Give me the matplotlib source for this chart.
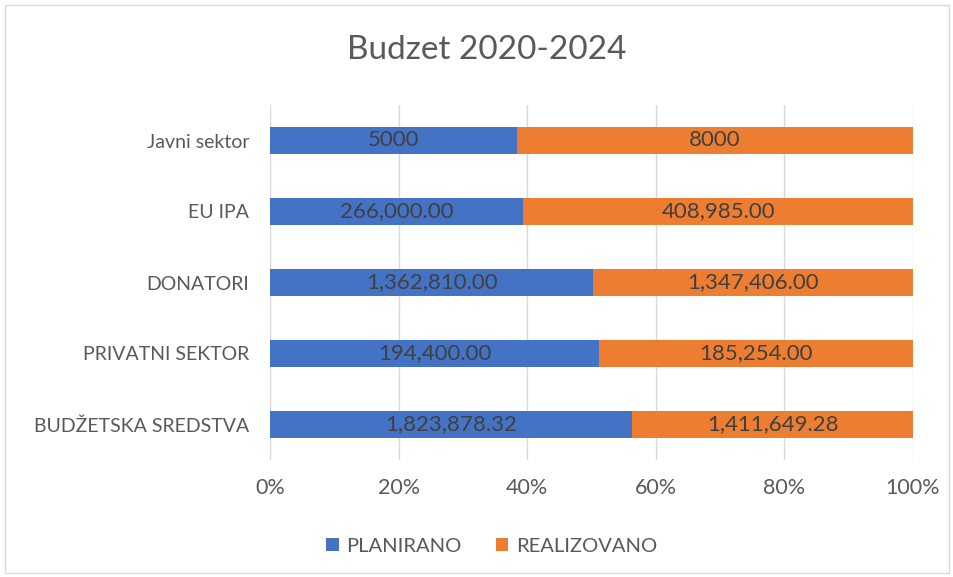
import matplotlib
matplotlib.use("Agg")
import matplotlib.pyplot as plt
from matplotlib.patches import Rectangle
import numpy as np

plt.rcParams['font.family'] = ['Lato', 'DejaVu Sans']

categories = ["BUDŽETSKA SREDSTVA", "PRIVATNI SEKTOR", "DONATORI", "EU IPA", "Javni sektor"]
planirano = [1823878.32, 194400.00, 1362810.00, 266000.00, 5000]
realizovano = [1411649.28, 185254.00, 1347406.00, 408985.00, 8000]
plan_labels = ["1,823,878.32", "194,400.00", "1,362,810.00", "266,000.00", "5000"]
real_labels = ["1,411,649.28", "185,254.00", "1,347,406.00", "408,985.00", "8000"]
xticks = [0, 0.2, 0.4, 0.6, 0.8, 1.0]
xtick_labels = ["0%", "20%", "40%", "60%", "80%", "100%"]

BLUE = "#4472C4"
ORANGE = "#ED7D31"
GRAY = "#595959"

fig = plt.figure(figsize=(9.54, 5.77), dpi=100)
ax = fig.add_axes([270/954, 1 - 460/577, (913 - 270)/954, (460 - 105)/577])

p = np.array(planirano)
r = np.array(realizovano)
tot = p + r
pf = p / tot
rf = r / tot
y = np.arange(len(categories))
h = 0.38
ax.barh(y, pf, height=h, color=BLUE, label="PLANIRANO")
ax.barh(y, rf, left=pf, height=h, color=ORANGE, label="REALIZOVANO")

for i in range(len(categories)):
    ax.text(pf[i] / 2, y[i], plan_labels[i], ha="center", va="center",
            fontsize=16, color="#404040")
    ax.text(pf[i] + rf[i] / 2, y[i], real_labels[i], ha="center", va="center",
            fontsize=16, color="#404040")

ax.set_xlim(0, 1)
ax.set_ylim(-0.5, len(categories) - 0.5)
ax.set_xticks(xticks)
ax.set_xticklabels(xtick_labels, fontsize=15.5, color=GRAY)
ax.set_yticks(y)
ax.set_yticklabels(categories, fontsize=14, color=GRAY)
ax.tick_params(length=0)
ax.tick_params(axis="x", pad=13)
ax.tick_params(axis="y", pad=15)
ax.grid(axis="x", color="#D9D9D9", linewidth=1)
ax.set_axisbelow(True)
for s in ax.spines.values():
    s.set_visible(False)

fig.text(487/954, 1 - 50/577, "Budzet 2020-2024", ha="center", va="center",
         fontsize=24, color=GRAY)

leg = fig.legend(loc="center", bbox_to_anchor=(492/954, 1 - 546/577), ncol=2,
                 frameon=False, fontsize=14.5, handlelength=0.6, handleheight=0.6,
                 handletextpad=0.4, columnspacing=1.7)
for t in leg.get_texts():
    t.set_color(GRAY)

fig.patches.append(Rectangle((5/954, 4/577), 944/954, 568/577, transform=fig.transFigure,
                             fill=False, edgecolor="#D9D9D9", linewidth=1))

fig.savefig("out.png", dpi=100)
